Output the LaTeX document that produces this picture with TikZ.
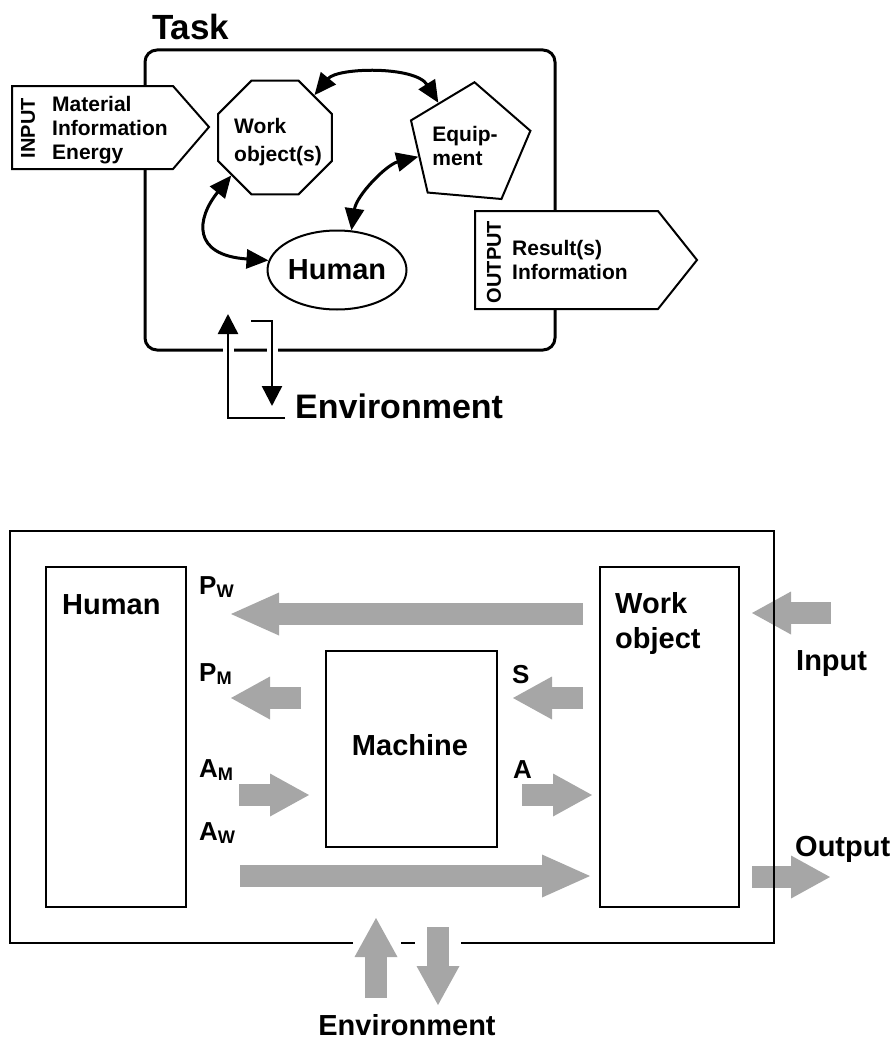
\documentclass[tikz,border=0pt]{standalone}
\usepackage{fontspec}
\setmainfont{Liberation Sans}
\usetikzlibrary{arrows.meta, shapes.geometric}
\definecolor{flowGray}{RGB}{166, 166, 166}

\tikzset{
  txt/.style={font=\bfseries\fontsize{21}{24}\selectfont, inner sep=0pt},
  txtbig/.style={font=\bfseries\fontsize{29}{35}\selectfont, inner sep=0pt},
  tag/.style={font=\bfseries\fontsize{20}{24}\selectfont, inner sep=0pt, rotate=90},
  sym/.style={font=\bfseries\fontsize{26}{30}\selectfont, inner sep=0pt, anchor=base west},
  taskpart/.style={draw, line width=2pt, fill=white, inner sep=0pt},
  octo/.style={taskpart, regular polygon, regular polygon sides=8, minimum size=123pt},
  penta/.style={taskpart, regular polygon, regular polygon sides=5,
    regular polygon rotate=-5, minimum size=126pt},
  link/.style={line width=3pt,
    {Triangle[length=22pt,width=19pt]}-{Triangle[length=22pt,width=19pt]}},
  envlink/.style={line width=2.5pt, -{Triangle[length=20pt,width=20pt]},
    preaction={draw=white, line width=11pt, -}},
  blk/.style={draw, line width=1.6pt, inner sep=0pt, anchor=north west},
  flow/.style={flowGray, line width=22pt,
    -{Triangle[length=39pt,width=43pt,line width=0pt]}},
  longflow/.style={flow, -{Triangle[length=48pt,width=43pt,line width=0pt]}},
  frame/.style={line width=1.6pt}
}

\begin{document}
\begin{tikzpicture}[x=1pt, y=-1pt]
  \useasboundingbox (0,0) rectangle (895,1041);

  % --- the task as a work system
  \node[anchor=base west, inner sep=0pt, font=\bfseries\fontsize{35}{42}\selectfont]
    (task) at (152,40) {Task};
  \node[draw, line width=3pt, rounded corners=12pt, minimum width=410pt,
    minimum height=300pt, inner sep=0pt] (taskbox) at (350,200) {};

  \draw[taskpart] (12,86) -- (173,86) -- (209,127) -- (173,169) -- (12,169) -- cycle;
  \node[tag] (inputtag) at (28,128) {INPUT};
  \node[txt, align=left, anchor=west] (inputlist) at (52,130)
    {Material\\Information\\Energy};

  \draw[taskpart] (475,211) -- (658,211) -- (697,260) -- (658,309) -- (475,309) -- cycle;
  \node[tag] (outputtag) at (494,262) {OUTPUT};
  \node[txt, align=left, anchor=west] (outputlist) at (512,260)
    {Result(s)\\Information};

  \node[octo] (work) at (275,137.5) {};
  \node[font=\bfseries\fontsize{21}{28}\selectfont, inner sep=0pt, align=left]
    (worktxt) at (278,142) {Work\\object(s)};
  \node[penta] (equip) at (469,145) {};
  \node[txt, align=left] (equiptxt) at (465,146) {Equip-\\ment};
  \node[taskpart, ellipse, minimum width=130pt, minimum height=79pt,
    font=\bfseries\fontsize{29}{35}\selectfont] (human) at (337,270) {Human};

  \draw[link] (work.47) .. controls +(23,-28) and +(-23,-37) .. (equip.126);
  \draw[link] (equip.193) .. controls +(-32,8) and +(5,-35) .. (human.70);
  \draw[link] (work.221) .. controls +(-35,43) and +(-77,-5) .. (human.172);

  % exchange with the environment
  \node[anchor=base west, inner sep=0pt, font=\bfseries\fontsize{34}{40}\selectfont]
    (envtop) at (295,418) {Environment};
  \draw[envlink] ([xshift=-10pt]envtop.base west) -| (228,314);
  \coordinate (envin) at (251,321);
  \draw[envlink] (envin) -| (272,406);

  % --- human, machine and work object
  \node[blk, minimum width=140pt, minimum height=340pt] (man) at (45,566) {};
  \node[blk, minimum width=171pt, minimum height=196pt] (machine) at (325,650) {};
  \node[blk, minimum width=139pt, minimum height=340pt] (wobj) at (599,566) {};
  \node[txtbig, anchor=base west] (manlbl) at (62,614) {Human};
  \node[txtbig, anchor=base] (machlbl) at (410,755) {Machine};
  \node[txtbig, align=left, anchor=west] (wobjlbl) at (615,623) {Work\\object};

  \coordinate (pw1) at (583,614);  \coordinate (pw2) at (231,614);
  \coordinate (pm1) at (301,698);  \coordinate (pm2) at (231,698);
  \coordinate (am1) at (239,795);  \coordinate (am2) at (309,795);
  \coordinate (aw1) at (240,876);  \coordinate (aw2) at (590,876);
  \coordinate (s1) at (583,698);   \coordinate (s2) at (513,698);
  \coordinate (a1) at (522,795);   \coordinate (a2) at (592,795);
  \coordinate (in1) at (831,613);  \coordinate (in2) at (752,613);
  \coordinate (out1) at (752,877); \coordinate (out2) at (830,877);
  \coordinate (eu1) at (376,998);  \coordinate (eu2) at (376,918);
  \coordinate (ed1) at (438,927);  \coordinate (ed2) at (438,1005);

  \draw[longflow] (pw1) -- (pw2);
  \draw[flow] (pm1) -- (pm2);
  \draw[flow] (am1) -- (am2);
  \draw[longflow] (aw1) -- (aw2);
  \draw[flow] (s1) -- (s2);
  \draw[flow] (a1) -- (a2);
  \draw[flow] (in1) -- (in2);
  \draw[flow] (out1) -- (out2);
  \draw[flow] (eu1) -- (eu2);
  \draw[flow] (ed1) -- (ed2);

  \node[sym] (pwlbl) at (199,594) {P\textsubscript{W}};
  \node[sym] (pmlbl) at (199,681) {P\textsubscript{M}};
  \node[sym] (amlbl) at (199,777) {A\textsubscript{M}};
  \node[sym] (awlbl) at (199,840) {A\textsubscript{W}};
  \node[sym] (slbl) at (512,683) {S};
  \node[sym] (albl) at (513,778) {A};
  \node[txtbig, anchor=base west] (inlbl) at (796,670) {Input};
  \node[txtbig, anchor=base west] (outlbl) at (795,856) {Output};
  \node[txtbig, anchor=base] (envbot) at (407,1035) {Environment};

  % system border, open where the environment flows pass
  \draw[frame] (353,943) -| (10,531) -| (774,943) -- (461,943);
  \draw[frame] (401,943) -- (415,943);
\end{tikzpicture}
\end{document}
